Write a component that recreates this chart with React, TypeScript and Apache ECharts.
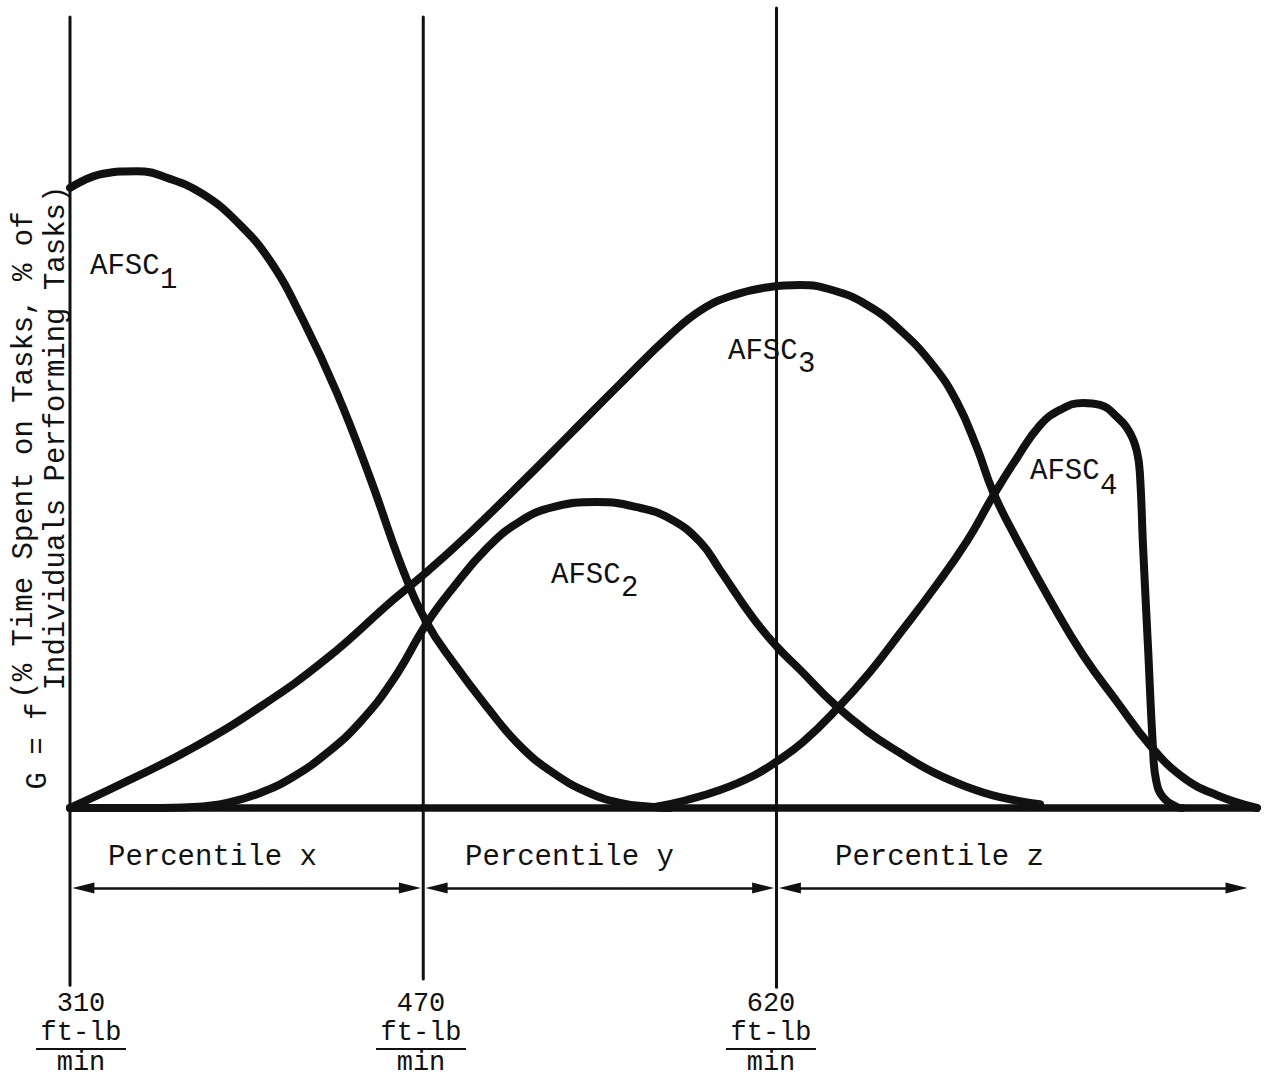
import React, { useEffect, useRef } from "react";
import * as echarts from "echarts";

// ---- data (x: position along the work-rate scale, boundaries at 0/30/60; y: G value) ----
const boundaryPos = [0, 30, 60];
const boundaryLabels = ["310", "470", "620"];
const unitTop = "ft-lb";
const unitBottom = "min";
const boundaryTop = [123.6, 123.6, 125];
const boundaryBottom = [-27.7, -26.7, -28];

const percentileLabels = ["Percentile x", "Percentile y", "Percentile z"];
const percentileSpans = [
  [0, 30],
  [30, 60],
  [60, 100.2],
];
const arrowRowY = -12.5;
const baselineEnd = 100.8;

const afsc1X = [0, 2.8, 5.69, 8.49, 11.3, 14.18, 16.99, 19.79, 22.68, 25.48, 28.28, 30.32, 32.53, 35.41, 38.22, 41.02, 43.91, 46.71, 49.51, 50.96];
const afsc1Y = [96.9, 99.1, 99.5, 98.3, 95.9, 91.6, 85.5, 76.25, 64.8, 51.6, 37.2, 28.9, 22.8, 15.8, 9.7, 5.5, 2.5, 0.8, 0.16, 0];

const afsc2X = [0, 6.79, 10.45, 13.33, 16.14, 18.94, 21.83, 24.63, 27.43, 30.32, 32.53, 35.41, 38.22, 41.02, 44.76, 48.15, 50.96, 53.5, 55.2, 58.0, 60.04, 62.0, 64.8, 67.69, 70.49, 73.29, 76.18, 78.98, 82.38];
const afsc2Y = [0, 0, 0.16, 0.8, 2.34, 4.84, 8.6, 13.4, 20.0, 28.9, 34.4, 40.6, 44.8, 47.0, 47.8, 47.0, 45.2, 41.6, 37.2, 29.7, 25.2, 21.6, 16.4, 12.0, 8.6, 5.6, 3.3, 1.7, 0.6];

const afsc3X = [0, 4.84, 10.45, 16.14, 21.83, 27.43, 30.32, 33.97, 38.22, 42.46, 46.71, 50.96, 53.76, 56.65, 59.45, 62.0, 64.8, 67.69, 70.49, 73.29, 75.33, 77.03, 78.39, 80.42, 83.23, 86.03, 88.92, 91.72, 94.52, 97.41, 100.8];
const afsc3Y = [0, 4.2, 9.4, 15.8, 23.4, 32.5, 36.9, 43.0, 50.6, 58.4, 66.25, 73.9, 78.0, 80.3, 81.4, 81.7, 80.9, 78.6, 74.7, 69.2, 63.4, 56.25, 49.4, 41.9, 32.5, 23.9, 16.6, 9.8, 4.8, 2.0, 0];

const afsc4X = [49.68, 52.4, 55.2, 58.0, 60.04, 62.25, 65.14, 67.94, 70.49, 73.29, 76.18, 78.39, 80.42, 82.38, 84.08, 86.03, 87.47, 88.92, 90.02, 90.62, 90.87, 91.13, 91.55, 91.97, 92.23, 92.82, 94.01, 94.44];
const afsc4Y = [0.16, 1.25, 2.8, 5.0, 7.3, 10.3, 15.5, 21.25, 27.3, 34.1, 41.7, 48.75, 54.7, 59.8, 62.2, 63.3, 63.0, 61.1, 58.6, 55.6, 52.0, 40.8, 25.2, 9.5, 4.4, 1.7, 0.16, 0];

const curveNames = ["AFSC1", "AFSC2", "AFSC3", "AFSC4"];
const curveSubs = ["1", "2", "3", "4"];

const yTitleLine1 = "(% Time Spent on Tasks, % of";
const yTitleLine2 = "Individuals Performing Tasks)";
const yTitlePrefix = "G = f";

// ---- layout ----
const W = 1266;
const H = 1078;
const GRID_LEFT = 70;
const GRID_TOP = 8;
const X_MIN = 0;
const X_MAX = 101;
const Y_MIN = -28;
const Y_MAX = 125;
const PX_X = 11.775;
const PX_Y = 6.4;
const FONT = "'Liberation Mono', 'Courier New', monospace";
const FS = 29;
const FS_TICK = 27;
const INK = "#111";

const zip = (xs: number[], ys: number[]) => xs.map((x, i) => [x, ys[i]]);

export default function App() {
  const ref = useRef<HTMLDivElement>(null);

  useEffect(() => {
    if (!ref.current) return;
    const chart = echarts.init(ref.current, undefined, { renderer: "svg" });

    const curve = (name: string, xs: number[], ys: number[]) => ({
      name,
      type: "line",
      data: zip(xs, ys),
      smooth: 0.45,
      symbol: "none",
      clip: false,
      silent: true,
      lineStyle: { color: INK, width: 8, cap: "round", join: "round" },
    });

    const arrowLenPx = 22;
    const half = arrowLenPx / 2 / PX_X;
    const tipGap = 0.2;

    const text = (t: string, x: number, y: number, extra: any = {}, fs: number = FS) => ({
      type: "text",
      x,
      y,
      ...extra,
      style: {
        text: t,
        fontFamily: FONT,
        fontSize: fs,
        fill: INK,
        align: extra.align || "left",
        verticalAlign: "middle",
        textAlign: extra.align || "left",
        textVerticalAlign: "middle",
      },
    });

    // label anchors (pixel) for annotations
    const afscLabelPos = [
      [90, 266, 160, 280],
      [551, 575, 621, 588],
      [728, 351, 798, 364],
      [1030, 471, 1100, 486],
    ];
    const tickCenters = [81, 421, 771];
    const percentileLeft = [108, 465, 835];

    const graphics: any[] = [];
    curveNames.forEach((n, i) => {
      const p = afscLabelPos[i];
      graphics.push(text("AFSC", p[0], p[1]));
      graphics.push(text(curveSubs[i], p[2], p[3]));
    });
    percentileLabels.forEach((t, i) => graphics.push(text(t, percentileLeft[i], 857)));
    boundaryLabels.forEach((t, i) => {
      const cx = tickCenters[i];
      graphics.push(text(t, cx, 1004, { align: "center" }, FS_TICK));
      graphics.push(text(unitTop, cx, 1033, { align: "center" }, FS_TICK));
      graphics.push({
        type: "line",
        shape: { x1: cx - 45, y1: 1049, x2: cx + 45, y2: 1049 },
        style: { stroke: INK, lineWidth: 2 },
      });
      graphics.push(text(unitBottom, cx, 1063, { align: "center" }, FS_TICK));
    });
    graphics.push(text(yTitleLine1, 24, 455, { align: "center", rotation: Math.PI / 2 }));
    graphics.push(text(yTitleLine2, 56, 438, { align: "center", rotation: Math.PI / 2 }));
    graphics.push(text(yTitlePrefix, 38, 746, { align: "center", rotation: Math.PI / 2 }));

    const option: any = {
      animation: false,
      backgroundColor: "#fff",
      grid: {
        left: GRID_LEFT,
        top: GRID_TOP,
        width: (X_MAX - X_MIN) * PX_X,
        height: (Y_MAX - Y_MIN) * PX_Y,
      },
      xAxis: { type: "value", min: X_MIN, max: X_MAX, show: false },
      yAxis: { type: "value", min: Y_MIN, max: Y_MAX, show: false },
      series: [
        ...boundaryPos.map((x, i) => ({
          type: "line",
          data: [
            [x, boundaryBottom[i]],
            [x, boundaryTop[i]],
          ],
          symbol: "none",
          clip: false,
          silent: true,
          lineStyle: { color: INK, width: 3, cap: "round" },
        })),
        {
          type: "line",
          data: [
            [0, 0],
            [baselineEnd, 0],
          ],
          symbol: "none",
          clip: false,
          silent: true,
          lineStyle: { color: INK, width: 7.5, cap: "round" },
          markLine: {
            silent: true,
            symbol: ["triangle", "triangle"],
            symbolSize: [11, arrowLenPx],
            label: { show: false },
            lineStyle: { color: INK, width: 2.5, type: "solid" },
            itemStyle: { color: INK },
            data: percentileSpans.map(([a, b]) => [
              { coord: [a + tipGap + half, arrowRowY] },
              { coord: [b - tipGap - half, arrowRowY] },
            ]),
          },
        },
        curve(curveNames[0], afsc1X, afsc1Y),
        curve(curveNames[1], afsc2X, afsc2Y),
        curve(curveNames[2], afsc3X, afsc3Y),
        curve(curveNames[3], afsc4X, afsc4Y),
      ],
      graphic: graphics,
    };
    chart.setOption(option);
    return () => chart.dispose();
  }, []);

  return (
    <div
      ref={ref}
      style={{ position: "fixed", left: 0, top: 0, width: W, height: H, background: "#fff" }}
    />
  );
}
